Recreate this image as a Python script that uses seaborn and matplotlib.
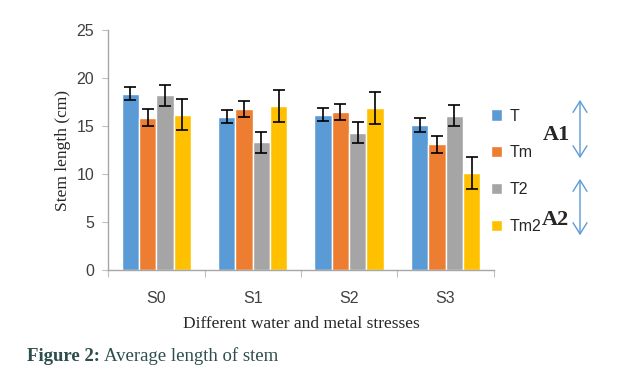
import matplotlib
matplotlib.use("Agg")
import matplotlib.pyplot as plt
import seaborn as sns
import pandas as pd

# data
stresses = ["S0", "S1", "S2", "S3"]
treatments = ["T", "Tm", "T2", "Tm2"]
t_vals = [18.4, 16.0, 16.2, 15.1]
tm_vals = [15.9, 16.8, 16.5, 13.1]
t2_vals = [18.2, 13.3, 14.3, 16.1]
tm2_vals = [16.2, 17.1, 16.9, 10.1]
err_sizes = [0.7, 0.85, 1.1, 1.65]  # one error size per treatment
colors = ["#5B9BD5", "#ED7D31", "#A5A5A5", "#FFC000"]

rows = []
for trt, vals in zip(treatments, [t_vals, tm_vals, t2_vals, tm2_vals]):
    for s, v in zip(stresses, vals):
        rows.append({"stress": s, "treatment": trt, "length": v})
df = pd.DataFrame(rows)

sns.set_style("white")
plt.rcParams["font.family"] = ["Liberation Sans", "DejaVu Sans"]

fig = plt.figure(figsize=(6.25, 3.87), dpi=100)
ax = fig.add_axes([0.173, 0.302, 0.617, 0.62])

sns.barplot(data=df, x="stress", y="length", hue="treatment",
            palette=colors, width=0.72, errorbar=None, saturation=1,
            ax=ax)

# error bars on top of each bar
for cont, err in zip(ax.containers, err_sizes):
    xs = [b.get_x() + b.get_width() / 2 for b in cont]
    ys = [b.get_height() for b in cont]
    ax.errorbar(xs, ys, yerr=err, fmt="none", ecolor="black",
                elinewidth=1.2, capsize=4.3, capthick=1.2)

ax.set_ylim(0, 25)
ax.set_yticks([0, 5, 10, 15, 20, 25])
ax.set_xlim(-0.5, 3.5)
ax.set_xticks([-0.5, 0.5, 1.5, 2.5, 3.5], minor=False)
ax.set_xticklabels([])
ax.set_xticks([0, 1, 2, 3], minor=True)
ax.set_xticklabels(stresses, minor=True)
ax.tick_params(axis="x", which="major", length=5, color="#bfbfbf",
               direction="out", bottom=True)
ax.tick_params(axis="x", which="minor", length=0, labelsize=11.5,
               labelcolor="#404040", pad=15)
ax.tick_params(axis="y", length=4, color="#bfbfbf", direction="out",
               left=True, labelsize=11.5, labelcolor="#404040", pad=6)

for side in ["top", "right"]:
    ax.spines[side].set_visible(False)
for side in ["left", "bottom"]:
    ax.spines[side].set_color("#a6a6a6")
    ax.spines[side].set_linewidth(1)

ax.set_ylabel("Stem length (cm)", family=["Liberation Serif"], fontsize=12.5)
ax.set_xlabel("Different water and metal stresses",
              family=["Liberation Serif"], fontsize=12.5, labelpad=7)

handles, labels = ax.get_legend_handles_labels()
ax.legend(handles, labels, frameon=False, loc="upper left",
          bbox_to_anchor=(0.955, 0.733), fontsize=11.5, labelspacing=1.36,
          handlelength=0.7, handleheight=0.7, handletextpad=0.5)

# double-headed arrows on the right
arrow_kw = dict(arrowstyle="<->,head_length=0.8,head_width=0.5",
                color="#5B9BD5", lw=1)
ax.annotate("", xy=(0.928, 0.749), xytext=(0.928, 0.584),
            xycoords="figure fraction", arrowprops=arrow_kw)
ax.annotate("", xy=(0.928, 0.545), xytext=(0.928, 0.385),
            xycoords="figure fraction", arrowprops=arrow_kw)
fig.text(0.890, 0.652, "A1", family=["Liberation Serif"], fontweight="bold",
         fontsize=16, ha="center", va="center")
fig.text(0.889, 0.431, "A2", family=["Liberation Serif"], fontweight="bold",
         fontsize=16, ha="center", va="center")

# caption
cap = fig.text(0.043, 0.08, "Figure 2:", family=["Liberation Serif"],
               fontweight="bold", fontsize=13.5, color="#2e4d4d",
               va="center")
fig.canvas.draw()
bb = cap.get_window_extent()
fig.text((bb.x1 + 4) / fig.bbox.width, 0.08, "Average length of stem",
         family=["Liberation Serif"], fontsize=13.5, color="#2e4d4d",
         va="center")

fig.savefig("out.png", dpi=100)
